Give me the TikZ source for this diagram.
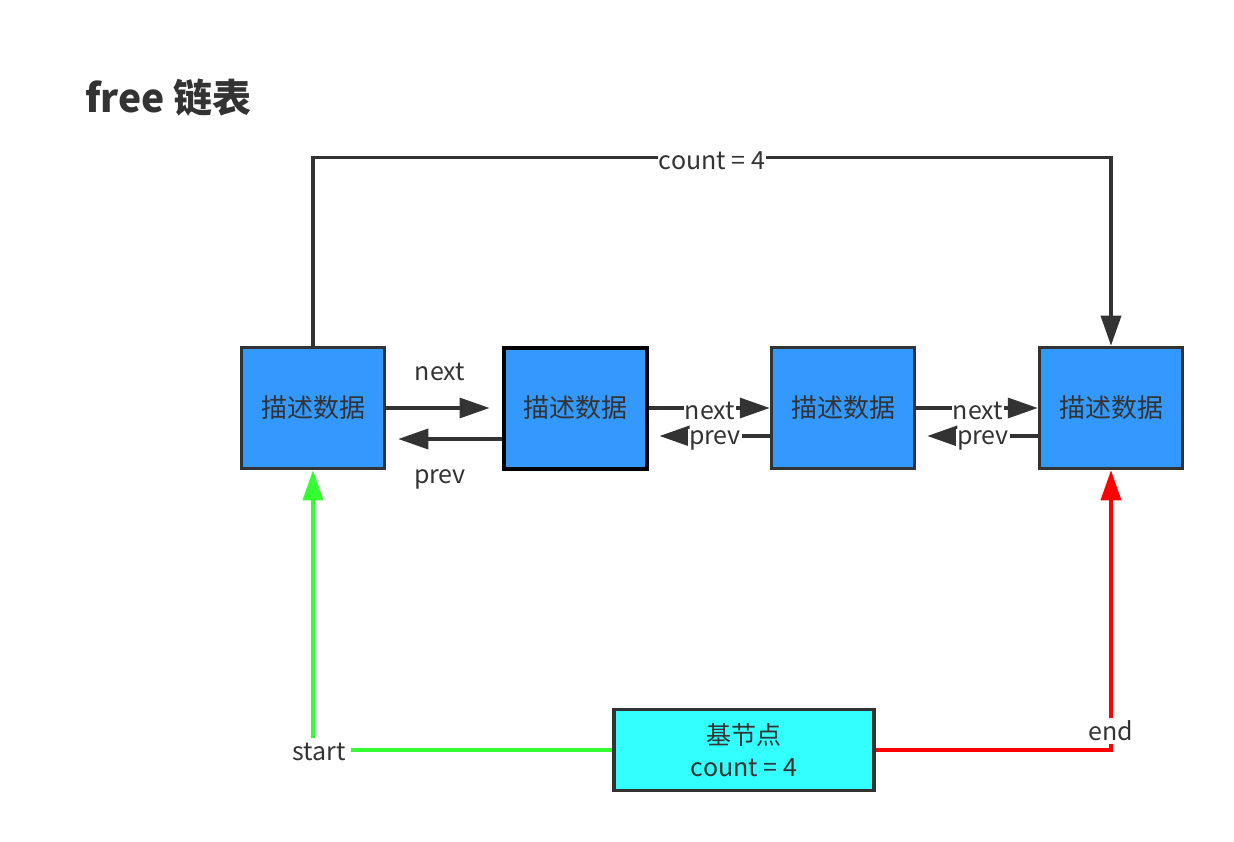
\documentclass[tikz,border=0pt]{standalone}
\usepackage{fontspec}
\setmainfont{Noto Sans CJK SC}
\usetikzlibrary{arrows.meta}
\definecolor{dk}{HTML}{333333}
\definecolor{boxblue}{HTML}{3399FF}
\definecolor{cyanfill}{HTML}{33FFFF}
\definecolor{grn}{HTML}{33FF33}
\definecolor{rd}{HTML}{FF0000}
\begin{document}
\begin{tikzpicture}[x=1pt,y=-1pt,
  box/.style={draw=dk,line width=3.5pt,fill=boxblue,minimum width=143pt,minimum height=121pt,inner sep=0pt,font=\fontsize{26}{32}\selectfont,text=dk},
  lbl/.style={fill=white,inner sep=1pt,font=\fontsize{25}{30}\selectfont,text=dk},
  conn/.style={draw=dk,line width=3.5pt,-{Triangle[length=30pt,width=20pt]}},
]
\useasboundingbox (0,0) rectangle (1234,842);
\node[font=\bfseries\fontsize{39}{44}\selectfont,text=dk,anchor=west,inner sep=0pt] (title) at (85,98) {free 链表};

\node[box] (b1) at (313,408) {描述数据};
\node[box,draw=black,line width=4pt] (b2) at (575,408) {描述数据};
\node[box] (b3) at (843,408) {描述数据};
\node[box] (b4) at (1111,408) {描述数据};
\node[box,fill=cyanfill,minimum width=260pt,minimum height=81pt,align=center,font=\fontsize{25}{32}\selectfont] (base) at (744,750) {基节点\\count = 4};

% b1 <-> b2
\draw[conn] (b1.east) -- ([xshift=-12pt]b2.west);
\draw[conn] ([yshift=-31pt]b2.west) -- ([xshift=12pt,yshift=-31pt]b1.east);
\node[lbl,fill=none] (n12) at (440,372) {next};
\node[lbl,fill=none] (p12) at (440,479) {prev};

% b2 <-> b3
\draw[conn] (b2.east) -- (b3.west);
\draw[conn] ([yshift=-28pt]b3.west) -- ([xshift=11pt,yshift=-28pt]b2.east);
\node[lbl] (n23) at (710,411) {next};
\node[lbl] (p23) at (715,440) {prev};

% b3 <-> b4
\draw[conn] (b3.east) -- (b4.west);
\draw[conn] ([yshift=-28pt]b4.west) -- ([xshift=11pt,yshift=-28pt]b3.east);
\node[lbl] (n34) at (978,411) {next};
\node[lbl] (p34) at (983,440) {prev};

% top count
\draw[conn] (b1.north) -- ++(0,-188) -| (b4.north);
\node[lbl] (cnt) at (712,161) {count = 4};

% start (green)
\coordinate (sc) at (313,750);
\draw[conn,draw=grn,-{Triangle[length=30pt,width=20pt,fill=grn]}] (base.west) -- (sc) -- (b1.south);
\node[lbl,inner sep=5pt] (st) at (319,752) {start};

% end (red)
\coordinate (ec) at (1111,750);
\draw[conn,draw=rd,-{Triangle[length=30pt,width=20pt,fill=rd]}] (base.east) -- (ec) -- (b4.south);
\node[lbl,inner sep=3pt] (en) at (1111,731) {end};
\end{tikzpicture}
\end{document}
